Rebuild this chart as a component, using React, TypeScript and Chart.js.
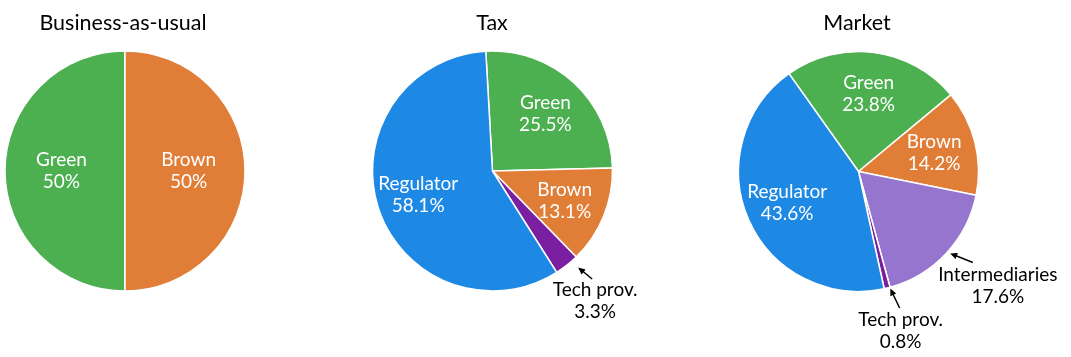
import React, { useEffect, useRef } from "react";
import { Chart, registerables } from "chart.js";

Chart.register(...registerables);

// ---------- data ----------
const TITLES = ["Business-as-usual", "Tax", "Market"];

const BAU_LABELS = ["Green", "Brown"];
const BAU_VALUES = [50, 50];

const TAX_LABELS = ["Green", "Brown", "Tech prov.", "Regulator"];
const TAX_VALUES = [25.5, 13.1, 3.3, 58.1];

const MARKET_LABELS = ["Green", "Brown", "Intermediaries", "Tech prov.", "Regulator"];
const MARKET_VALUES = [23.8, 14.2, 17.6, 0.8, 43.6];

// ---------- style ----------
const W = 1071;
const H = 357;
const RADIUS = 120;
const FONT = "Lato, 'Open Sans', 'DejaVu Sans', sans-serif";
const WEIGHT = 400;

const COLORS: Record<string, string> = {
  Green: "#4CAF50",
  Brown: "#E07D36",
  Regulator: "#1E88E5",
  "Tech prov.": "#7B1FA2",
  Intermediaries: "#9575CD",
};

const EXTERNAL = new Set(["Tech prov.", "Intermediaries"]);

type ExtStyle = {
  dist: number;
  dAngle: number;
  headDist: number;
  headDAngle: number;
  tailDx: number;
  tailDy: number;
};

type Spec = {
  title: string;
  labels: string[];
  values: number[];
  cx: number;
  cy: number;
  titleX: number;
  rotation: number;
  decimals: number;
  inDist: number;
  ext: Record<string, ExtStyle>;
};

const SPECS: Spec[] = [
  {
    title: TITLES[0], labels: BAU_LABELS, values: BAU_VALUES,
    cx: 125, cy: 171, titleX: 123, rotation: 180, decimals: 0, inDist: 0.53, ext: {},
  },
  {
    title: TITLES[1], labels: TAX_LABELS, values: TAX_VALUES,
    cx: 492.5, cy: 171, titleX: 492, rotation: -3.2, decimals: 1, inDist: 0.65,
    ext: {
      "Tech prov.": { dist: 1.38, dAngle: 0, headDist: 1.075, headDAngle: -3.3, tailDx: -3, tailDy: -22 },
    },
  },
  {
    title: TITLES[2], labels: MARKET_LABELS, values: MARKET_VALUES,
    cx: 858.5, cy: 171.5, titleX: 857, rotation: -35.4, decimals: 1, inDist: 0.65,
    ext: {
      "Tech prov.": { dist: 1.375, dAngle: -1, headDist: 1.01, headDAngle: -1.4, tailDx: -1, tailDy: -23 },
      Intermediaries: { dist: 1.5, dAngle: -3.8, headDist: 1.025, headDAngle: -1.3, tailDx: -25, tailDy: -23 },
    },
  },
];

function drawArrow(ctx: CanvasRenderingContext2D, x1: number, y1: number, x2: number, y2: number) {
  const ang = Math.atan2(y2 - y1, x2 - x1);
  const hl = 7;
  const hw = 3.2;
  ctx.save();
  ctx.strokeStyle = "#000";
  ctx.fillStyle = "#000";
  ctx.lineWidth = 1.5;
  ctx.beginPath();
  ctx.moveTo(x1, y1);
  ctx.lineTo(x2 - Math.cos(ang) * hl * 0.8, y2 - Math.sin(ang) * hl * 0.8);
  ctx.stroke();
  ctx.beginPath();
  ctx.moveTo(x2, y2);
  ctx.lineTo(x2 - Math.cos(ang) * hl - Math.sin(ang) * hw, y2 - Math.sin(ang) * hl + Math.cos(ang) * hw);
  ctx.lineTo(x2 - Math.cos(ang) * hl + Math.sin(ang) * hw, y2 - Math.sin(ang) * hl - Math.cos(ang) * hw);
  ctx.closePath();
  ctx.fill();
  ctx.restore();
}

const labelPlugin = {
  id: "sliceLabels",
  afterDatasetsDraw(chart: any) {
    const spec: Spec = chart.options.plugins.sliceLabels.spec;
    const ctx: CanvasRenderingContext2D = chart.ctx;
    const meta = chart.getDatasetMeta(0);
    const lineH = 22;
    const deg = Math.PI / 180;
    ctx.save();
    ctx.textAlign = "center";
    ctx.textBaseline = "middle";
    ctx.font = `${WEIGHT} 19px ${FONT}`;
    meta.data.forEach((arc: any, i: number) => {
      const p = arc.getProps(["x", "y", "startAngle", "endAngle", "outerRadius"], true);
      const name = spec.labels[i];
      const pct = spec.values[i].toFixed(spec.decimals) + "%";
      const mid = (p.startAngle + p.endAngle) / 2;
      if (EXTERNAL.has(name)) {
        const e = spec.ext[name];
        const a = mid + e.dAngle * deg;
        const lx = p.x + Math.cos(a) * p.outerRadius * e.dist;
        const ly = p.y + Math.sin(a) * p.outerRadius * e.dist;
        ctx.fillStyle = "#000";
        ctx.fillText(name, lx, ly - lineH / 2);
        ctx.fillText(pct, lx, ly + lineH / 2);
        const ha = mid + e.headDAngle * deg;
        const hx = p.x + Math.cos(ha) * p.outerRadius * e.headDist;
        const hy = p.y + Math.sin(ha) * p.outerRadius * e.headDist;
        drawArrow(ctx, lx + e.tailDx, ly + e.tailDy, hx, hy);
      } else {
        const lx = p.x + Math.cos(mid) * p.outerRadius * spec.inDist;
        const ly = p.y + Math.sin(mid) * p.outerRadius * spec.inDist;
        ctx.fillStyle = "#fff";
        ctx.fillText(name, lx, ly - lineH / 2);
        ctx.fillText(pct, lx, ly + lineH / 2);
      }
    });
    ctx.fillStyle = "#000";
    ctx.font = `${WEIGHT} 21.5px ${FONT}`;
    ctx.textBaseline = "alphabetic";
    ctx.fillText(spec.title, spec.titleX, 30);
    ctx.restore();
  },
};

function PieCanvas({ spec }: { spec: Spec }) {
  const ref = useRef<HTMLCanvasElement | null>(null);
  useEffect(() => {
    if (!ref.current) return;
    const pad = RADIUS + 2;
    const chart = new Chart(ref.current, {
      type: "pie",
      data: {
        labels: spec.labels,
        datasets: [
          {
            data: spec.values,
            backgroundColor: spec.labels.map((l) => COLORS[l]),
            borderColor: "#ffffff",
            borderWidth: 1.5,
          },
        ],
      },
      options: {
        responsive: false,
        animation: false,
        devicePixelRatio: 1,
        rotation: spec.rotation,
        radius: RADIUS,
        layout: {
          padding: {
            left: spec.cx - pad,
            right: W - (spec.cx + pad),
            top: spec.cy - pad,
            bottom: H - (spec.cy + pad),
          },
        },
        plugins: {
          legend: { display: false },
          tooltip: { enabled: false },
          title: { display: false },
          sliceLabels: { spec },
        } as any,
      },
      plugins: [labelPlugin as any],
    });
    return () => chart.destroy();
  }, [spec]);
  return (
    <canvas
      ref={ref}
      width={W}
      height={H}
      style={{ position: "absolute", left: 0, top: 0, width: W, height: H }}
    />
  );
}

export default function App() {
  return (
    <div
      style={{
        position: "fixed",
        left: 0,
        top: 0,
        width: W,
        height: H,
        background: "#ffffff",
        overflow: "hidden",
      }}
    >
      {SPECS.map((s, i) => (
        <PieCanvas key={i} spec={s} />
      ))}
    </div>
  );
}
